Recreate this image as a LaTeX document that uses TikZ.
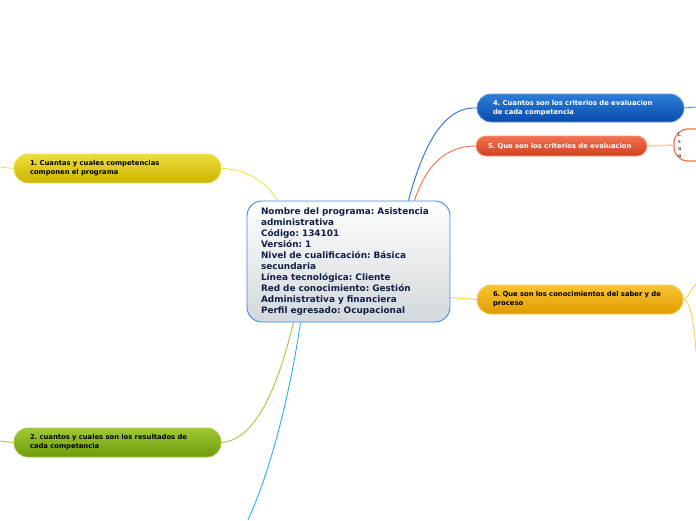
\documentclass[tikz,border=0pt]{standalone}
\usepackage{fontspec}
\setmainfont{DejaVu Sans}
\usetikzlibrary{calc}
\frenchspacing
\definecolor{ytop}{RGB}{238,222,60}
\definecolor{ybot}{RGB}{204,180,0}
\definecolor{yline}{RGB}{240,224,80}
\definecolor{gtop}{RGB}{160,200,55}
\definecolor{gbot}{RGB}{110,155,10}
\definecolor{gline}{RGB}{160,200,60}
\definecolor{btop}{RGB}{45,125,218}
\definecolor{bbot}{RGB}{10,75,170}
\definecolor{bline}{RGB}{40,110,215}
\definecolor{otop}{RGB}{242,115,80}
\definecolor{obot}{RGB}{208,64,30}
\definecolor{oline}{RGB}{245,110,70}
\definecolor{atop}{RGB}{250,195,50}
\definecolor{abot}{RGB}{224,155,0}
\definecolor{aline}{RGB}{250,205,90}
\definecolor{cline}{RGB}{40,175,240}
\definecolor{cborder}{RGB}{60,140,215}
\definecolor{cbot}{RGB}{210,216,220}
\definecolor{navy}{RGB}{18,30,70}
\tikzset{
  pill/.style={rounded corners=14pt, minimum height=29pt, inner xsep=16pt, inner ysep=0pt,
    align=left, font=\fontsize{6.8}{9}\selectfont\bfseries, line width=0.8pt},
  conn/.style={line width=0.9pt},
}
\begin{document}
\begin{tikzpicture}[x=1pt,y=-1pt]
\useasboundingbox (0,0) rectangle (696,520);

% center
\node[rounded corners=15pt, draw=cborder, line width=0.9pt, top color=white, bottom color=cbot,
  minimum width=203pt, minimum height=121pt, inner xsep=14pt, text width=175pt, align=left,
  text=navy, font=\fontsize{8.9}{11}\selectfont\bfseries] (c) at (348.5,261.5)
  {Nombre del programa: Asistencia\\administrativa\\Código: 134101\\Versión: 1\\Nivel de cualificación: Básica\\secundaria\\Línea tecnológica: Cliente\\Red de conocimiento: Gestión\\Administrativa y financiera\\Perfil egresado: Ocupacional};

% topic nodes
\node[pill, draw=yline, top color=ytop, bottom color=ybot, minimum width=207pt, text width=175pt] (n1) at (117.5,168.5)
  {1. Cuantas y cuales competencias\\componen el programa};
\node[pill, draw=gline, top color=gtop, bottom color=gbot, minimum width=207pt, text width=175pt] (n2) at (117.5,442.5)
  {2. cuantos y cuales son los resultados de\\cada competencia};
\node[pill, draw=bline!70!white, top color=btop, bottom color=bbot, text=white, minimum width=207pt, minimum height=28pt, text width=175pt] (n4) at (580.5,108)
  {4. Cuantos son los criterios de evaluacion\\de cada competencia};
\node[pill, rounded corners=10pt, draw=oline!70!white, top color=otop, bottom color=obot, text=white, minimum width=171pt, minimum height=20pt, inner xsep=12pt, text width=147pt] (n5) at (561.5,146)
  {5. Que son los criterios de evaluacion};
\node[pill, draw=aline, top color=atop, bottom color=abot, minimum width=206pt, text width=174pt] (n6) at (580,299.5)
  {6. Que son los conocimientos del saber y de\\proceso};
\node[rounded corners=14pt, draw=oline, line width=1.2pt, fill=white, minimum width=86pt, minimum height=32pt,
  inner xsep=4pt, inner ysep=0pt, text width=78pt, align=left, font=\fontsize{5.2}{7}\selectfont] (n5b) at (717,145)
  {L\\s\\a\\a};

% free ends
\coordinate (l1) at (0,167);
\coordinate (l2) at (0,441);
\coordinate (r4) at (696,107);
\coordinate (r6a) at (696,284);
\coordinate (r6b) at (696,352);
\coordinate (bot) at (248,520);

% connectors
\draw[conn, yline] (n1.east) .. controls (250,169) and (268,185) .. ($(c.north)+(-71,0)$);
\draw[conn, yline] (l1) -- (n1.west);
\draw[conn, gline] (n2.east) .. controls (262,440) and (283,365) .. ($(c.south)+(-55,0)$);
\draw[conn, gline] (l2) -- (n2.west);
\draw[conn, bline] (n4.west) .. controls (442,106) and (422,150) .. ($(c.north)+(60,0)$);
\draw[conn, bline!80!white] (n4.east) -- (r4);
\draw[conn, oline] (n5.west) .. controls (446,146) and (426,165) .. ($(c.north)+(66,0)$);
\draw[conn, oline!40!white, line width=1.4pt] (n5.east) -- (n5b.west);
\draw[conn, aline] ($(c.east)+(0,36)$) -- (n6.west);
\draw[conn, aline] (n6.east) .. controls (688,299) and (690,290) .. (r6a);
\draw[conn, aline] (n6.east) .. controls (690,300) and (694,320) .. (r6b);
\draw[conn, cline] ($(c.south)+(-48,0)$) .. controls (292,380) and (275,460) .. (bot);
\end{tikzpicture}
\end{document}
